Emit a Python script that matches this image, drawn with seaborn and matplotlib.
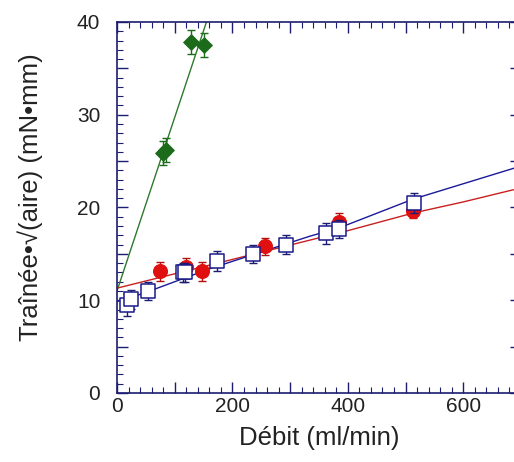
import seaborn as sns
import matplotlib.pyplot as plt
import pandas as pd
from matplotlib.ticker import MultipleLocator, FixedLocator

# measured points
green_x = [80, 85, 129, 150]
green_y = [25.9, 26.2, 37.8, 37.5]
green_err = [1.3, 1.3, 1.3, 1.3]

red_x = [74, 120, 147, 256, 385, 513]
red_y = [13.1, 13.6, 13.1, 15.8, 18.4, 19.6]
red_err = [1.0, 1.0, 1.0, 0.9, 1.0, 0.7]

blue_x = [17, 24, 54, 114, 118, 174, 236, 293, 362, 385, 515]
blue_y = [9.5, 10.1, 11.0, 13.0, 13.0, 14.2, 15.0, 16.0, 17.2, 17.7, 20.5]
blue_err = [1.2, 1.0, 1.0, 1.0, 1.0, 1.1, 1.0, 1.0, 1.1, 1.0, 1.1]

# fitted curves
green_fit_x = [0, 155]
green_fit_y = [11.0, 40.0]
red_fit_x = [0, 200, 400, 513, 600, 686, 700]
red_fit_y = [11.3, 14.4, 17.5, 19.4, 20.6, 21.9, 21.9]
blue_fit_x = [0, 46, 161, 230, 334, 385, 513, 686, 700]
blue_fit_y = [9.85, 10.75, 13.4, 14.8, 16.9, 17.8, 20.9, 24.2, 24.5]

x_ticks = [0, 100, 200, 300, 400, 500, 600, 700]
x_labels = ["0", "", "200", "", "400", "", "600", ""]
y_ticks = [0, 5, 10, 15, 20, 25, 30, 35, 40]
y_labels = ["0", "", "10", "", "20", "", "30", "", "40"]

sns.set_style("white")
plt.rcParams['font.family'] = ['Liberation Sans', 'DejaVu Sans']
plt.rcParams['xtick.minor.visible'] = True
plt.rcParams['ytick.minor.visible'] = True

fig = plt.figure(figsize=(5.14, 4.62), dpi=100)
ax = fig.add_axes([0.2276, 0.1494, 0.786, 0.803])

navy = "#1c1c70"
green = "#1b6b1b"
red = "#e01010"
blue_edge = "#1a1a8a"

sns.lineplot(x=green_fit_x, y=green_fit_y, color="#2d7a2d", lw=1.0, ax=ax)
sns.lineplot(x=red_fit_x, y=red_fit_y, color="#c82020", lw=1.0, ax=ax)
sns.lineplot(x=blue_fit_x, y=blue_fit_y, color="#1a1a99", lw=1.0, ax=ax)

ax.errorbar(green_x, green_y, yerr=green_err, fmt="none", ecolor=green, elinewidth=1, capsize=3)
ax.errorbar(red_x, red_y, yerr=red_err, fmt="none", ecolor="#b01010", elinewidth=1, capsize=3)
ax.errorbar(blue_x, blue_y, yerr=blue_err, fmt="none", ecolor=navy, elinewidth=1, capsize=3, zorder=7)

sns.scatterplot(x=green_x, y=green_y, marker="D", s=65, color=green, edgecolor=green, ax=ax, zorder=5)
sns.scatterplot(x=red_x, y=red_y, marker="o", s=100, color=red, edgecolor=red, ax=ax, zorder=5)
sns.scatterplot(x=blue_x, y=blue_y, marker="s", s=95, color="white", edgecolor=blue_edge, linewidth=1.1, ax=ax, zorder=8)

ax.set_xlim(0, 700)
ax.set_ylim(0, 40)
ax.set_xticks(x_ticks)
ax.set_xticklabels(x_labels)
ax.set_yticks(y_ticks)
ax.set_yticklabels(y_labels)
ax.xaxis.set_minor_locator(MultipleLocator(20))
ax.yaxis.set_minor_locator(MultipleLocator(1))
ax.tick_params(which="both", direction="in", left=True, bottom=True, top=True, right=True,
               colors=navy, labelcolor="#222222", labelsize=15)
ax.tick_params(which="major", length=8, width=1)
ax.tick_params(which="minor", length=4, width=0.8)
ax.tick_params(axis="y", pad=12)
ax.tick_params(axis="x", pad=3)
for s in ax.spines.values():
    s.set_color(navy)
    s.set_linewidth(1.2)

ax.set_xlabel("Débit (ml/min)", fontsize=18.5, color="#222222", labelpad=7)
ax.set_ylabel("Traînée•√(aire) (mN•mm)", fontsize=18.5, color="#222222")
ax.yaxis.set_label_coords(-0.183, 0.528)

fig.savefig("out.png", dpi=100)
